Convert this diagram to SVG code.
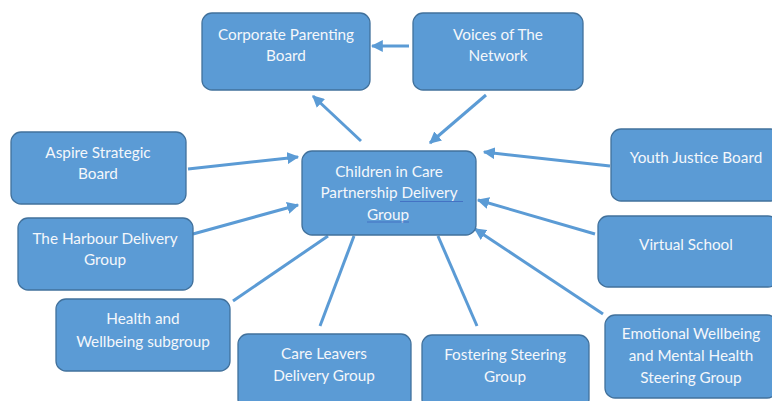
<svg xmlns="http://www.w3.org/2000/svg" width="772" height="401" viewBox="0 0 772 401">
<defs>
<style>
.box{fill:#5b9bd5;stroke:#41719c;stroke-width:1.3}
.t{font-family:Lato,"Open Sans","Liberation Sans",sans-serif;font-size:15.3px;fill:#f4f7fb;text-anchor:middle}
.c{stroke:#5b9bd5;stroke-width:3;fill:none}
.ul{stroke:#4472c4;stroke-width:1.2}
</style>
<marker id="ah" viewBox="0 0 10 10" refX="9" refY="5" markerWidth="4" markerHeight="4" orient="auto" markerUnits="strokeWidth">
<path d="M0,0 L10,5 L0,10 z" fill="#5b9bd5"/>
</marker>
</defs>
<rect width="772" height="401" fill="#ffffff"/>
<g id="connectors">
<line class="c" x1="409" y1="46" x2="372" y2="46" marker-end="url(#ah)"/>
<line class="c" x1="361" y1="141" x2="313" y2="96" marker-end="url(#ah)"/>
<line class="c" x1="486" y1="95" x2="430" y2="143" marker-end="url(#ah)"/>
<line class="c" x1="188" y1="169" x2="298" y2="157" marker-end="url(#ah)"/>
<line class="c" x1="193" y1="234" x2="298" y2="205" marker-end="url(#ah)"/>
<line class="c" x1="233" y1="301" x2="328" y2="236"/>
<line class="c" x1="320" y1="326" x2="354" y2="236"/>
<line class="c" x1="477" y1="326" x2="438" y2="236"/>
<line class="c" x1="610" y1="166" x2="484" y2="152" marker-end="url(#ah)"/>
<line class="c" x1="595" y1="234" x2="478" y2="200" marker-end="url(#ah)"/>
<line class="c" x1="603" y1="314" x2="475" y2="229" marker-end="url(#ah)"/>
</g>
<g id="corporate">
<rect class="box" x="202" y="13" width="168" height="77" rx="10"/>
<text class="t" x="286" y="40">Corporate Parenting</text>
<text class="t" x="286" y="61">Board</text>
</g>
<g id="voices">
<rect class="box" x="413" y="13" width="170" height="77" rx="10"/>
<text class="t" x="498" y="40">Voices of The</text>
<text class="t" x="498" y="61">Network</text>
</g>
<g id="center">
<rect class="box" x="302" y="151" width="174" height="84" rx="10"/>
<text class="t" x="389" y="177">Children in Care</text>
<text class="t" x="389" y="198">Partnership Delivery</text>
<text class="t" x="388" y="220">Group</text>
<line class="ul" x1="400" y1="201.5" x2="463" y2="201.5"/>
<line class="ul" x1="367" y1="222" x2="409" y2="222"/>
</g>
<g id="aspire">
<rect class="box" x="11" y="132" width="175" height="72" rx="10"/>
<text class="t" x="98" y="158">Aspire Strategic</text>
<text class="t" x="98" y="179">Board</text>
</g>
<g id="harbour">
<rect class="box" x="18" y="218" width="175" height="72" rx="10"/>
<text class="t" x="105" y="244">The Harbour Delivery</text>
<text class="t" x="105" y="265">Group</text>
</g>
<g id="health">
<rect class="box" x="56" y="299" width="174" height="72" rx="10"/>
<text class="t" x="143" y="324">Health and</text>
<text class="t" x="143" y="347">Wellbeing subgroup</text>
</g>
<g id="careleavers">
<rect class="box" x="238" y="334" width="173" height="75" rx="10"/>
<text class="t" x="324" y="359">Care Leavers</text>
<text class="t" x="324" y="381">Delivery Group</text>
</g>
<g id="fostering">
<rect class="box" x="422" y="335" width="167" height="74" rx="10"/>
<text class="t" x="505" y="360">Fostering Steering</text>
<text class="t" x="505" y="382">Group</text>
</g>
<g id="emotional">
<rect class="box" x="605" y="315" width="172" height="83" rx="10"/>
<text class="t" x="691" y="339">Emotional Wellbeing</text>
<text class="t" x="691" y="361">and Mental Health</text>
<text class="t" x="691" y="383">Steering Group</text>
</g>
<g id="virtual">
<rect class="box" x="598" y="216" width="180" height="71" rx="10"/>
<text class="t" x="686" y="250">Virtual School</text>
</g>
<g id="youth">
<rect class="box" x="611" y="129" width="170" height="72" rx="10"/>
<text class="t" x="696" y="163">Youth Justice Board</text>
</g>
</svg>
